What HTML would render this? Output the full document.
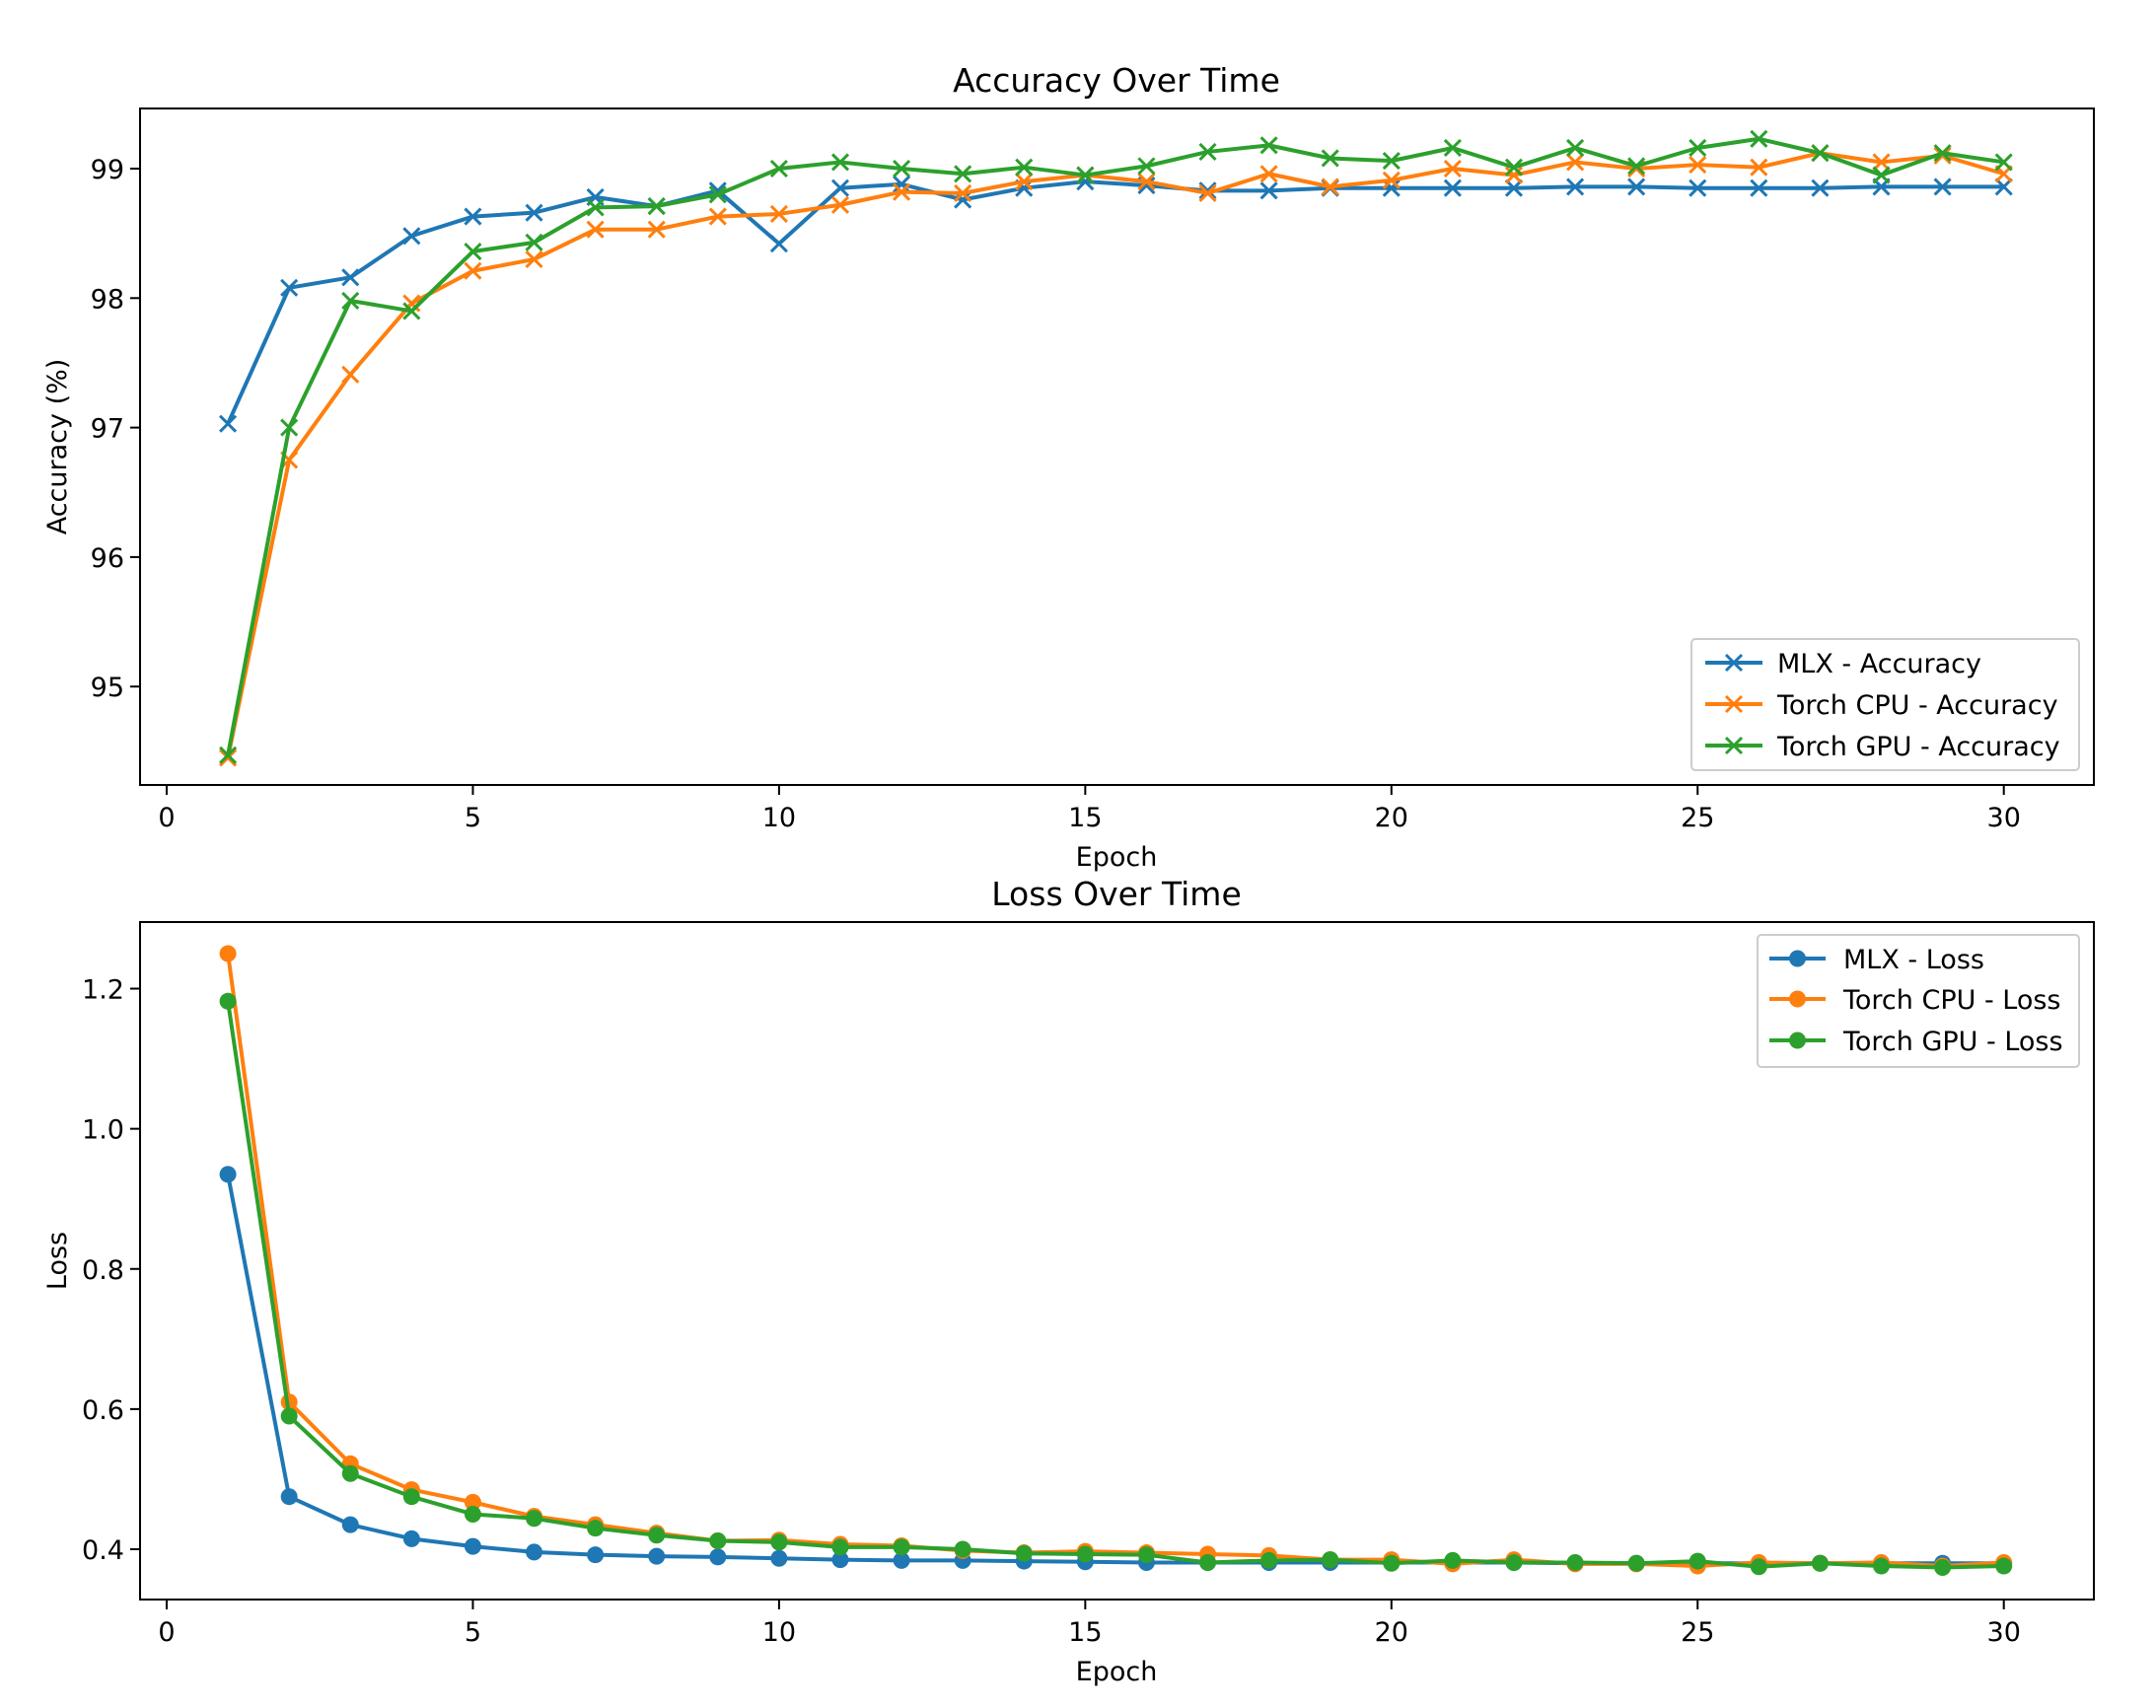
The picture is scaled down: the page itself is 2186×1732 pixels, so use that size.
<!DOCTYPE html>
<html><head><meta charset="utf-8"><style>
html,body{margin:0;padding:0;background:#fff;}
svg{display:block;font-family:"DejaVu Sans","Liberation Sans",sans-serif;}
</style></head><body>
<svg id="fig" width="2186" height="1732" viewBox="0 0 2186 1732" xmlns="http://www.w3.org/2000/svg"></svg>
<script>
const epochs = [1,2,3,4,5,6,7,8,9,10,11,12,13,14,15,16,17,18,19,20,21,22,23,24,25,26,27,28,29,30];
const mlxAcc = [97.03,98.08,98.16,98.48,98.63,98.66,98.78,98.71,98.83,98.42,98.85,98.88,98.76,98.85,98.90,98.87,98.83,98.83,98.85,98.85,98.85,98.85,98.86,98.86,98.85,98.85,98.85,98.86,98.86,98.86];
const cpuAcc = [94.45,96.75,97.41,97.96,98.21,98.30,98.53,98.53,98.63,98.65,98.72,98.82,98.81,98.90,98.95,98.90,98.81,98.96,98.86,98.91,99.00,98.95,99.05,99.00,99.03,99.01,99.12,99.05,99.10,98.96];
const gpuAcc = [94.47,97.00,97.98,97.90,98.36,98.43,98.70,98.71,98.80,99.00,99.05,99.00,98.96,99.01,98.95,99.02,99.13,99.18,99.08,99.06,99.16,99.01,99.16,99.02,99.16,99.23,99.12,98.95,99.12,99.05];
const mlxLoss = [0.935,0.475,0.435,0.415,0.404,0.396,0.392,0.390,0.389,0.387,0.385,0.384,0.384,0.383,0.382,0.381,0.381,0.381,0.381,0.381,0.381,0.381,0.380,0.380,0.380,0.380,0.380,0.380,0.380,0.380];
const cpuLoss = [1.25,0.61,0.522,0.485,0.467,0.447,0.435,0.423,0.412,0.413,0.407,0.405,0.398,0.395,0.397,0.395,0.393,0.391,0.385,0.385,0.379,0.385,0.379,0.379,0.376,0.381,0.380,0.381,0.376,0.381];
const gpuLoss = [1.182,0.59,0.508,0.475,0.45,0.444,0.430,0.420,0.412,0.410,0.403,0.403,0.400,0.394,0.393,0.392,0.381,0.384,0.385,0.380,0.384,0.381,0.381,0.380,0.383,0.375,0.380,0.376,0.374,0.376];
const xTicks = [0,5,10,15,20,25,30];
const accTicks = [95,96,97,98,99];
const lossTicks = [0.4,0.6,0.8,1.0,1.2];
const lossTickLabels = ["0.4","0.6","0.8","1.0","1.2"];
const accNames = ["MLX - Accuracy","Torch CPU - Accuracy","Torch GPU - Accuracy"];
const lossNames = ["MLX - Loss","Torch CPU - Loss","Torch GPU - Loss"];

const NS="http://www.w3.org/2000/svg";
const svg=document.getElementById('fig');
const colors=["#1f77b4","#ff7f0e","#2ca02c"];
function el(tag,attrs,parent,text){const e=document.createElementNS(NS,tag);for(const k in attrs)e.setAttribute(k,attrs[k]);if(text!==undefined)e.textContent=text;(parent||svg).appendChild(e);return e;}
const X0=169, XS=62.09, L=142, R=2123;
const xf=v=>X0+v*XS;
const yAcc=v=>171+(99-v)*131.3;
const yLoss=v=>1571-(v-0.4)*710.6;

function axes(name,top,bot,yf,yt,ytl,title,ylabel,titleY){
  const g=el('g',{},svg);
  
  
  const t=el('text',{x:1132,y:titleY,'font-size':33,'text-anchor':'middle',fill:'#000'},g,title);
  
  xTicks.forEach(v=>{const x=xf(v);el('line',{x1:x,x2:x,y1:bot,y2:bot+10,stroke:'#000','stroke-width':2},g);
    const tl=el('text',{x:x,y:bot+42,'font-size':27,'text-anchor':'middle'},g,String(v));
    });
  yt.forEach((v,i)=>{const y=yf(v);el('line',{x1:L-10,x2:L,y1:y,y2:y,stroke:'#000','stroke-width':2},g);
    const tl=el('text',{x:L-16,y:y+10,'font-size':27,'text-anchor':'end'},g,ytl[i]);
    });
  const xl=el('text',{x:1132,y:bot+82,'font-size':27,'text-anchor':'middle'},g,'Epoch');
  
  const cy=(top+bot)/2;
  const yl=el('text',{x:0,y:0,'font-size':27,'text-anchor':'middle',transform:`translate(67,${cy}) rotate(-90)`},g,ylabel);
  
  return g;
}
function frame(g,top,bot){el('rect',{x:L,y:top,width:R-L,height:bot-top,fill:'none',stroke:'#000','stroke-width':2},g);}
function xMark(g,x,y,c){el('path',{d:`M${x-8},${y-8}L${x+8},${y+8}M${x-8},${y+8}L${x+8},${y-8}`,stroke:c,'stroke-width':3,fill:'none'},g);}
function oMark(g,x,y,c){el('circle',{cx:x,cy:y,r:8.5,fill:c},g);}
function series(parent,name,vals,yf,c,marker){
  const g=el('g',{},parent);
  
  
  const pts=epochs.map((e,i)=>xf(e)+','+yf(vals[i])).join(' ');
  el('polyline',{points:pts,fill:'none',stroke:c,'stroke-width':4,'stroke-linejoin':'round'},g);
  epochs.forEach((e,i)=>marker(g,xf(e),yf(vals[i]),c));
}
function legend(parent,name,x,y,w,h,names,marker,lx1,lx2,tx,rows){
  const g=el('g',{},parent);
  
  
  el('rect',{x:x,y:y,width:w,height:h,rx:4,fill:'#fff','fill-opacity':0.8,stroke:'#ccc','stroke-width':2},g);
  names.forEach((n,i)=>{const ry=rows[i];
    const eg=el('g',{},g);
    
    
    el('line',{x1:lx1,x2:lx2,y1:ry,y2:ry,stroke:colors[i],'stroke-width':4},eg);
    marker(eg,(lx1+lx2)/2,ry,colors[i]);
    el('text',{x:tx,y:ry+10,'font-size':27},eg,n);});
}
// top chart
const g1=axes('accuracy-chart',110,796,yAcc,accTicks,accTicks.map(String),'Accuracy Over Time','Accuracy (%)',93);
series(g1,'mlx-accuracy-line',mlxAcc,yAcc,colors[0],xMark);
series(g1,'cpu-accuracy-line',cpuAcc,yAcc,colors[1],xMark);
series(g1,'gpu-accuracy-line',gpuAcc,yAcc,colors[2],xMark);
frame(g1,110,796);
legend(g1,'accuracy-legend',1715,648,393,133,accNames,xMark,1729,1787,1802,[672,714,756]);
// bottom chart
const g2=axes('loss-chart',935,1622,yLoss,lossTicks,lossTickLabels,'Loss Over Time','Loss',918);
series(g2,'mlx-loss-line',mlxLoss,yLoss,colors[0],oMark);
series(g2,'cpu-loss-line',cpuLoss,yLoss,colors[1],oMark);
series(g2,'gpu-loss-line',gpuLoss,yLoss,colors[2],oMark);
frame(g2,935,1622);
legend(g2,'loss-legend',1782,948,326,134,lossNames,oMark,1794,1851,1869,[972,1013,1055]);
</script>
</body></html>
